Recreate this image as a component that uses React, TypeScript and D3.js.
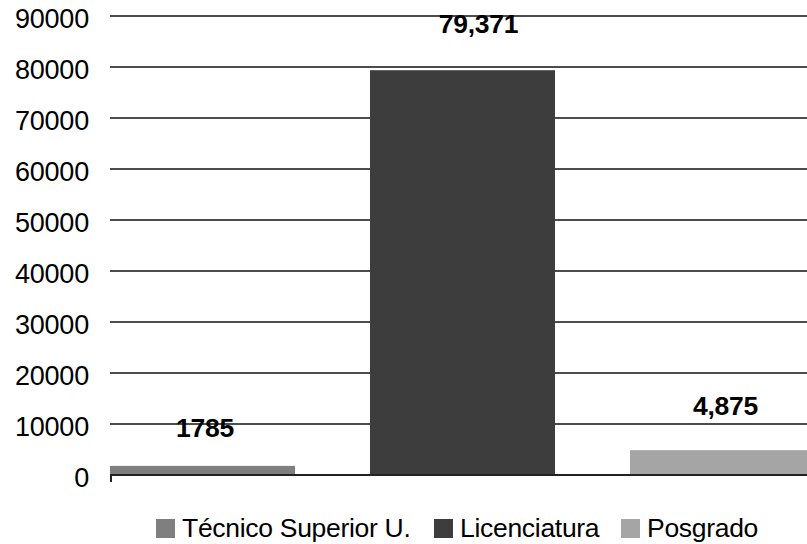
import { useMemo } from "react";
import * as d3 from "d3";

const WIDTH = 807;
const HEIGHT = 544;
const MARGIN = { top: 16, right: 0, bottom: 69, left: 110 };

const categories = ["Técnico Superior U.", "Licenciatura", "Posgrado"];
const values = [1785, 79371, 4875];
const valueLabels = ["1785", "79,371", "4,875"];
const colors = ["#7f7f7f", "#3d3d3d", "#a5a5a5"];
const yTicks = [0, 10000, 20000, 30000, 40000, 50000, 60000, 70000, 80000, 90000];

// label placement, in px relative to bar center / bar top
const LABEL_DX = [2.5, 16, 3];
const LABEL_DY = [-29, -37, -35];
// legend swatch x positions
const LEGEND_X = [156, 434, 621];

const FONT = "'Liberation Sans', Arial, sans-serif";

export default function App() {
  const boundsHeight = HEIGHT - MARGIN.top - MARGIN.bottom;

  const yScale = useMemo(
    () => d3.scaleLinear().domain([0, 90000]).range([MARGIN.top + boundsHeight, MARGIN.top]),
    [boundsHeight]
  );

  // bands are 260px apart, bars 185px wide; last bar runs past the right edge
  const xScale = useMemo(
    () =>
      d3
        .scaleBand<string>()
        .domain(categories)
        .range([MARGIN.left, MARGIN.left + 2 * 260 + 185])
        .paddingInner(75 / 260)
        .paddingOuter(0),
    []
  );

  const y0 = yScale(0);

  return (
    <div style={{ position: "absolute", left: 0, top: 0 }}>
      <svg width={WIDTH} height={HEIGHT} style={{ display: "block", background: "#fff" }}>
        {/* gridlines */}
        {yTicks
          .filter((t) => t > 0)
          .map((t) => (
            <line
              key={t}
              x1={MARGIN.left}
              x2={WIDTH}
              y1={yScale(t)}
              y2={yScale(t)}
              stroke="#111"
              strokeWidth={1.5}
            />
          ))}

        {/* tick labels */}
        {yTicks.map((t) => (
          <text
            key={"l" + t}
            x={89}
            y={yScale(t) + 11.5}
            textAnchor="end"
            fontFamily={FONT}
            fontSize={27}
            letterSpacing={-0.2}
            fill="#000"
          >
            {t}
          </text>
        ))}

        {/* bars */}
        {categories.map((c, i) => (
          <rect
            key={c}
            x={xScale(c)}
            y={yScale(values[i])}
            width={xScale.bandwidth()}
            height={y0 - yScale(values[i])}
            fill={colors[i]}
          />
        ))}

        {/* value labels */}
        {categories.map((c, i) => (
          <text
            key={"v" + c}
            x={(xScale(c) ?? 0) + xScale.bandwidth() / 2 + LABEL_DX[i]}
            y={yScale(values[i]) + LABEL_DY[i]}
            textAnchor="middle"
            fontFamily={FONT}
            fontWeight="bold"
            fontSize={26.5}
            letterSpacing={-0.3}
            fill="#000"
          >
            {valueLabels[i]}
          </text>
        ))}

        {/* x axis */}
        <line x1={MARGIN.left} x2={WIDTH} y1={y0} y2={y0} stroke="#222" strokeWidth={2} />
        <line x1={MARGIN.left + 1} x2={MARGIN.left + 1} y1={y0} y2={y0 + 7} stroke="#222" strokeWidth={2} />

        {/* legend */}
        {categories.map((c, i) => (
          <g key={"lg" + c}>
            <rect x={LEGEND_X[i]} y={519} width={19} height={19} fill={colors[i]} />
            <text
              x={LEGEND_X[i] + 26}
              y={537}
              fontFamily={FONT}
              fontSize={26.5}
              letterSpacing={-0.3}
              fill="#000"
            >
              {c}
            </text>
          </g>
        ))}
      </svg>
    </div>
  );
}
